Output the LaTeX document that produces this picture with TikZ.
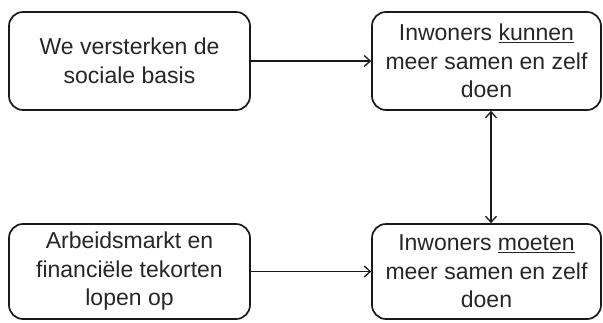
\documentclass[tikz,border=0pt]{standalone}
\usepackage{fontspec}
\setmainfont{Liberation Sans}
\usetikzlibrary{arrows.meta}
\tikzset{
  x=1pt, y=-1pt,
  box/.style={draw=black!90, line width=1.7pt, rounded corners=14pt, align=center,
    inner sep=0pt, text=black!85,
    font=\fontsize{23}{28.5}\selectfont},
  tip/.tip={Straight Barb[length=6pt,width=11pt,line width=1.3pt]},
  conn/.style={line width=1.4pt, draw=black!90, -tip},
  biconn/.style={line width=1.4pt, draw=black!90, tip-tip},
}
\newcommand{\ul}[1]{\underline{#1}}
\begin{document}
\begin{tikzpicture}
\useasboundingbox (0,0) rectangle (603,322);
\node[box, minimum width=241pt, minimum height=98pt] (a) at (129.5,61) {We versterken de\\sociale basis};
\node[box, minimum width=229pt, minimum height=98pt] (b) at (486.5,61) {Inwoners \ul{kunnen}\\meer samen en zelf\\doen};
\node[box, minimum width=241pt, minimum height=95pt] (c) at (129.5,271.5) {Arbeidsmarkt en\\financiële tekorten\\lopen op};
\node[box, minimum width=229pt, minimum height=95pt] (d) at (486.5,271.5) {Inwoners \ul{moeten}\\meer samen en zelf\\doen};
\draw[conn] (a.east) -- (b.west);
\draw[conn] (c.east) -- (d.west);
\draw[biconn] ([xshift=4.5pt]b.south) -- ([xshift=4.5pt]d.north);
\end{tikzpicture}
\end{document}
